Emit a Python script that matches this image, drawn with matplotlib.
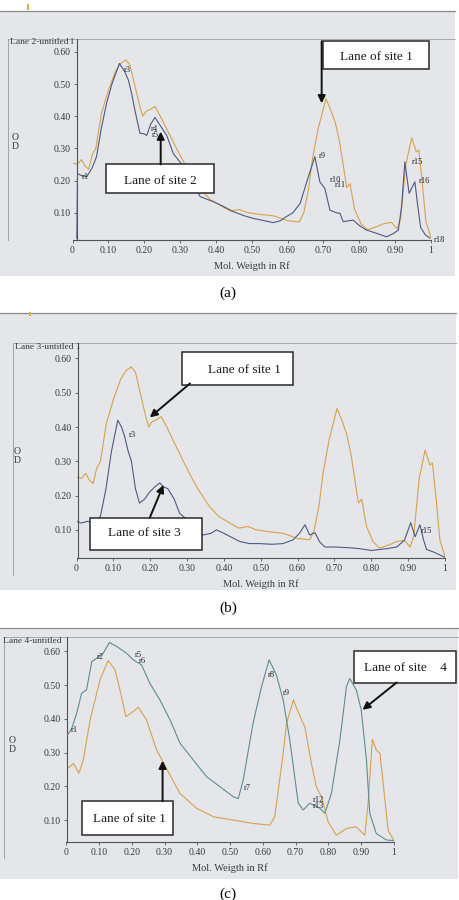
import matplotlib
matplotlib.use("Agg")
import matplotlib.pyplot as plt
from matplotlib.patches import Rectangle
from matplotlib.lines import Line2D

plt.rcParams['font.family'] = ['Liberation Serif', 'DejaVu Serif']

# ---- data (Rf, OD) ----
# site 1 lane, as shown in panels (a) and (b)
rf_site1 = [0.0, 0.013, 0.025, 0.035, 0.045, 0.055, 0.065, 0.081, 0.10, 0.12,
            0.135, 0.149, 0.16, 0.175, 0.188, 0.196, 0.205, 0.215, 0.23, 0.245,
            0.258, 0.271, 0.29, 0.316, 0.335, 0.361, 0.385, 0.416, 0.44, 0.465,
            0.488, 0.52, 0.561, 0.60, 0.633, 0.645, 0.658, 0.669, 0.685, 0.707,
            0.72, 0.733, 0.745, 0.765, 0.774, 0.787, 0.805, 0.823, 0.845, 0.869,
            0.89, 0.905, 0.915, 0.93, 0.946, 0.959, 0.966, 0.975, 0.986, 1.0]
od_site1 = [0.255, 0.25, 0.265, 0.245, 0.235, 0.28, 0.30, 0.41, 0.48, 0.54,
            0.565, 0.575, 0.56, 0.49, 0.43, 0.40, 0.415, 0.42, 0.43, 0.40,
            0.37, 0.342, 0.30, 0.245, 0.21, 0.168, 0.14, 0.12, 0.105, 0.11,
            0.10, 0.095, 0.09, 0.075, 0.071, 0.10, 0.17, 0.265, 0.36, 0.454,
            0.42, 0.38, 0.32, 0.178, 0.19, 0.11, 0.065, 0.047, 0.055, 0.066,
            0.07, 0.05, 0.08, 0.25, 0.333, 0.289, 0.295, 0.2, 0.071, 0.022]

# site 2 lane, panel (a)
rf_site2 = [0.012, 0.014, 0.025, 0.04, 0.055, 0.067, 0.08, 0.095, 0.11, 0.131,
            0.145, 0.156, 0.165, 0.174, 0.188, 0.2, 0.207, 0.218, 0.23, 0.244,
            0.263, 0.281, 0.305, 0.33, 0.356, 0.393, 0.42, 0.449, 0.48, 0.505,
            0.535, 0.56, 0.58, 0.597, 0.615, 0.635, 0.658, 0.676, 0.69, 0.704,
            0.718, 0.735, 0.746, 0.755, 0.783, 0.80, 0.82, 0.85, 0.876, 0.895,
            0.909, 0.918, 0.927, 0.939, 0.955, 0.962, 0.971, 0.985, 0.997]
od_site2 = [0.02, 0.222, 0.215, 0.212, 0.24, 0.274, 0.36, 0.44, 0.50, 0.564,
            0.54, 0.512, 0.47, 0.419, 0.347, 0.345, 0.34, 0.375, 0.396, 0.372,
            0.34, 0.284, 0.25, 0.20, 0.15, 0.134, 0.12, 0.103, 0.09, 0.082,
            0.075, 0.069, 0.075, 0.088, 0.10, 0.129, 0.212, 0.274, 0.196, 0.175,
            0.108, 0.10, 0.098, 0.072, 0.077, 0.06, 0.046, 0.035, 0.025, 0.035,
            0.046, 0.12, 0.258, 0.16, 0.196, 0.13, 0.054, 0.03, 0.021]

# site 3 lane, panel (b)
rf_site3 = [0.0, 0.013, 0.03, 0.05, 0.065, 0.08, 0.095, 0.112, 0.122, 0.13,
            0.14, 0.149, 0.16, 0.171, 0.185, 0.198, 0.212, 0.226, 0.237, 0.248,
            0.265, 0.28, 0.30, 0.316, 0.343, 0.365, 0.38, 0.40, 0.443, 0.47,
            0.497, 0.53, 0.56, 0.588, 0.605, 0.62, 0.633, 0.647, 0.66, 0.674,
            0.70, 0.74, 0.77, 0.80, 0.84, 0.869, 0.89, 0.907, 0.919, 0.932,
            0.942, 0.95, 0.97, 1.0]
od_site3 = [0.125, 0.12, 0.125, 0.12, 0.14, 0.22, 0.33, 0.42, 0.40, 0.375,
            0.33, 0.30, 0.22, 0.178, 0.19, 0.21, 0.225, 0.237, 0.225, 0.22,
            0.19, 0.148, 0.13, 0.11, 0.085, 0.09, 0.10, 0.09, 0.066, 0.06,
            0.06, 0.058, 0.06, 0.071, 0.09, 0.115, 0.085, 0.092, 0.065, 0.05,
            0.05, 0.048, 0.045, 0.04, 0.045, 0.05, 0.07, 0.121, 0.08, 0.115,
            0.07, 0.043, 0.035, 0.02]

# site 1 lane, as rescaled in panel (c)
rf_site1_c = [0.004, 0.022, 0.039, 0.052, 0.073, 0.103, 0.128, 0.149, 0.164, 0.182,
              0.205, 0.22, 0.245, 0.276, 0.306, 0.347, 0.398, 0.449, 0.51, 0.57,
              0.621, 0.636, 0.662, 0.672, 0.693, 0.718, 0.728, 0.748, 0.763, 0.779,
              0.799, 0.824, 0.855, 0.885, 0.911, 0.921, 0.934, 0.946, 0.957, 0.967,
              0.982, 1.0]
od_site1_c = [0.253, 0.268, 0.239, 0.278, 0.397, 0.516, 0.573, 0.546, 0.486, 0.407,
              0.422, 0.435, 0.397, 0.308, 0.253, 0.179, 0.135, 0.11, 0.10, 0.09,
              0.085, 0.11, 0.298, 0.387, 0.456, 0.397, 0.377, 0.268, 0.199, 0.169,
              0.095, 0.055, 0.075, 0.08, 0.055, 0.15, 0.34, 0.308, 0.298, 0.209,
              0.07, 0.039]

# site 4 lane, panel (c)
rf_site4 = [0.004, 0.017, 0.032, 0.047, 0.062, 0.078, 0.093, 0.113, 0.132, 0.154,
            0.184, 0.205, 0.23, 0.255, 0.286, 0.317, 0.347, 0.388, 0.428, 0.469,
            0.51, 0.525, 0.54, 0.57, 0.596, 0.619, 0.641, 0.662, 0.682, 0.708,
            0.723, 0.743, 0.774, 0.789, 0.809, 0.835, 0.855, 0.865, 0.885, 0.90,
            0.916, 0.926, 0.946, 0.977, 1.0]
od_site4 = [0.352, 0.372, 0.417, 0.476, 0.486, 0.57, 0.58, 0.595, 0.627, 0.615,
            0.595, 0.575, 0.56, 0.506, 0.456, 0.397, 0.328, 0.278, 0.229, 0.199,
            0.169, 0.164, 0.219, 0.387, 0.496, 0.575, 0.531, 0.456, 0.338, 0.15,
            0.13, 0.15, 0.135, 0.12, 0.179, 0.338, 0.496, 0.52, 0.486, 0.427,
            0.278, 0.12, 0.06, 0.041, 0.039]

# peak markers written on the traces
peaks_a = ["r1", "r3", "r4", "r5", "r9", "r10", "r11", "r15", "r16", "r18"]
peaks_a_rf = [0.026, 0.142, 0.218, 0.221, 0.688, 0.718, 0.732, 0.946, 0.967, 1.007]
peaks_a_od = [0.212, 0.545, 0.359, 0.341, 0.276, 0.201, 0.186, 0.258, 0.198, 0.015]
peaks_b = ["r3", "r15"]
peaks_b_rf = [0.143, 0.934]
peaks_b_od = [0.377, 0.098]
peaks_c = ["r1", "r2", "r5", "r6", "r7", "r8", "r9", "r12", "r13"]
peaks_c_rf = [0.014, 0.093, 0.21, 0.223, 0.542, 0.616, 0.66, 0.752, 0.752]
peaks_c_od = [0.367, 0.583, 0.59, 0.572, 0.194, 0.531, 0.478, 0.159, 0.143]

yticks = [0.10, 0.20, 0.30, 0.40, 0.50, 0.60]
ytick_labels = ["0.10", "0.20", "0.30", "0.40", "0.50", "0.60"]
xticks = [0, 0.1, 0.2, 0.3, 0.4, 0.5, 0.6, 0.7, 0.8, 0.9, 1.0]
xtick_labels = ["0", "0.10", "0.20", "0.30", "0.40", "0.50", "0.60", "0.70",
                "0.80", "0.90", "1"]

ORANGE = "#d6a24e"
BLUE = "#4f5a80"
TEAL = "#5f8c92"
BG = "#e4e6e9"
TXT = "#3a3a3a"

W, H = 460, 900
fig = plt.figure(figsize=(W / 100, H / 100), dpi=100)


def fx(px):
    return px / W


def fy(py):
    return 1 - py / H


def add_axes(x0, x1, ytop, ybot):
    ax = fig.add_axes([fx(x0), fy(ybot), fx(x1) - fx(x0), (ybot - ytop) / H])
    ax.set_zorder(2)
    return ax


def panel_bg(x0, x1, y0, y1, frame_x, frame_y, ybot):
    fig.patches.append(Rectangle((fx(x0), fy(y1)), fx(x1) - fx(x0), (y1 - y0) / H,
                                 transform=fig.transFigure, fc=BG, ec="none", zorder=-5))
    fig.lines.append(Line2D([fx(x0), fx(x1)], [fy(y0), fy(y0)], transform=fig.transFigure,
                            color="#8a8c90", lw=0.9, zorder=-4))
    # faint frame of the software window
    fig.lines.append(Line2D([fx(frame_x), fx(frame_x)], [fy(frame_y), fy(ybot)],
                            transform=fig.transFigure, color="#a0a2a6", lw=0.7, zorder=-4))
    fig.lines.append(Line2D([fx(frame_x), fx(x1)], [fy(frame_y), fy(frame_y)],
                            transform=fig.transFigure, color="#a8aaae", lw=0.7, zorder=-4))


def style_axes(ax, ylim, lane_title, title_px, od_px, spine_at=0.0):
    ax.set_facecolor("none")
    ax.set_xlim(0, 1)
    ax.set_ylim(*ylim)
    for s in ["top", "right"]:
        ax.spines[s].set_visible(False)
    ax.spines["left"].set_position(("data", spine_at))
    for s in ["left", "bottom"]:
        ax.spines[s].set_color("#505257")
        ax.spines[s].set_linewidth(0.8)
    ax.set_yticks(yticks)
    ax.set_yticklabels(ytick_labels)
    ax.set_xticks(xticks)
    ax.set_xticklabels(xtick_labels)
    ax.tick_params(axis="both", direction="out", length=2.5, width=0.6,
                   colors="#505257", labelsize=7, labelcolor=TXT, pad=2)
    fig.text(fx(title_px[0]), fy(title_px[1]), lane_title, fontsize=6.8,
             color=TXT, ha="left", va="center")
    fig.text(fx(od_px[0]), fy(od_px[1]), "O\nD", fontsize=7, color=TXT,
             ha="center", va="center", linespacing=1.1)
    ax.set_xlabel("Mol. Weigth in Rf", fontsize=7.5, color=TXT, labelpad=4)


def label_box(ax, x0, x1, y0, y1, text, tx, ty):
    ax.add_patch(Rectangle((x0, y0), x1 - x0, y1 - y0, fc="white", ec="#2a2a2a",
                           lw=1.1, zorder=5, clip_on=False))
    ax.text(tx, ty, text, fontsize=9.5, ha="center", va="center", zorder=6,
            color="#1a1a1a", clip_on=False)


def arrow(ax, start, tip):
    ax.annotate("", xy=tip, xytext=start, zorder=7, annotation_clip=False,
                arrowprops=dict(arrowstyle="-|>", color="#111111", lw=1.4,
                                mutation_scale=11, shrinkA=0, shrinkB=0))


def peak_labels(ax, names, rfs, ods):
    for n, r, o in zip(names, rfs, ods):
        ax.text(r, o, n, fontsize=6, color="#222222", ha="left", va="center",
                zorder=4, clip_on=False)


# ---------------- panel (a) ----------------
panel_bg(0, 455, 11, 276, 8, 39, 240)
fig.patches.append(Rectangle((fx(27), fy(10)), 2 / W, 6 / H, transform=fig.transFigure,
                             fc="#e0b040", ec="none", zorder=-3))
ax_a = add_axes(72.5, 431, 39, 240)
style_axes(ax_a, (0.015, 0.64), "Lane 2-untitled l", (10, 42), (15, 142),
           spine_at=0.012)
ax_a.plot(rf_site1, od_site1, color=ORANGE, lw=0.8, zorder=2)
ax_a.plot(rf_site2, od_site2, color=BLUE, lw=0.8, zorder=3)
peak_labels(ax_a, peaks_a, peaks_a_rf, peaks_a_od)
label_box(ax_a, 0.699, 0.994, 0.546, 0.633, "Lane of site 1", 0.847, 0.585)
arrow(ax_a, (0.695, 0.633), (0.695, 0.44))
label_box(ax_a, 0.094, 0.395, 0.16, 0.25, "Lane of site 2", 0.244, 0.2)
arrow(ax_a, (0.246, 0.25), (0.246, 0.352))
fig.text(fx(228), fy(293), "(a)", fontsize=11, ha="center", va="center")

# ---------------- panel (b) ----------------
panel_bg(0, 456, 313, 590, 13, 343, 575)
fig.patches.append(Rectangle((fx(29), fy(316)), 2 / W, 4 / H, transform=fig.transFigure,
                             fc="#e0b040", ec="none", zorder=-3))
ax_b = add_axes(76.5, 445, 343, 558)
style_axes(ax_b, (0.018, 0.645), "Lane 3-untitled 1", (15, 347), (17, 456),
           spine_at=0.004)
ax_b.plot(rf_site1, od_site1, color=ORANGE, lw=0.8, zorder=2)
ax_b.plot(rf_site3, od_site3, color=BLUE, lw=0.8, zorder=3)
peak_labels(ax_b, peaks_b, peaks_b_rf, peaks_b_od)
label_box(ax_b, 0.285, 0.588, 0.522, 0.619, "Lane of site 1", 0.457, 0.566)
arrow(ax_b, (0.308, 0.527), (0.199, 0.428))
label_box(ax_b, 0.037, 0.34, 0.04, 0.136, "Lane of site 3", 0.183, 0.092)
arrow(ax_b, (0.199, 0.136), (0.236, 0.231))
fig.text(fx(228), fy(608), "(b)", fontsize=11, ha="center", va="center")

# ---------------- panel (c) ----------------
panel_bg(0, 458, 628, 879, 4, 637, 858)
ax_c = add_axes(66.2, 394, 637, 842)
style_axes(ax_c, (0.035, 0.643), "Lane 4-untitled", (3, 641), (12, 745),
           spine_at=0.002)
ax_c.plot(rf_site1_c, od_site1_c, color=ORANGE, lw=0.8, zorder=2)
ax_c.plot(rf_site4, od_site4, color=TEAL, lw=0.8, zorder=3)
peak_labels(ax_c, peaks_c, peaks_c_rf, peaks_c_od)
label_box(ax_c, 0.878, 1.19, 0.506, 0.602, "Lane of site    4", 1.035, 0.552)
arrow(ax_c, (1.008, 0.508), (0.904, 0.427))
label_box(ax_c, 0.049, 0.327, 0.055, 0.156, "Lane of site 1", 0.192, 0.102)
arrow(ax_c, (0.294, 0.156), (0.294, 0.276))
fig.text(fx(228), fy(894), "(c)", fontsize=11, ha="center", va="center")

fig.savefig("out.png", dpi=100, facecolor="white")
